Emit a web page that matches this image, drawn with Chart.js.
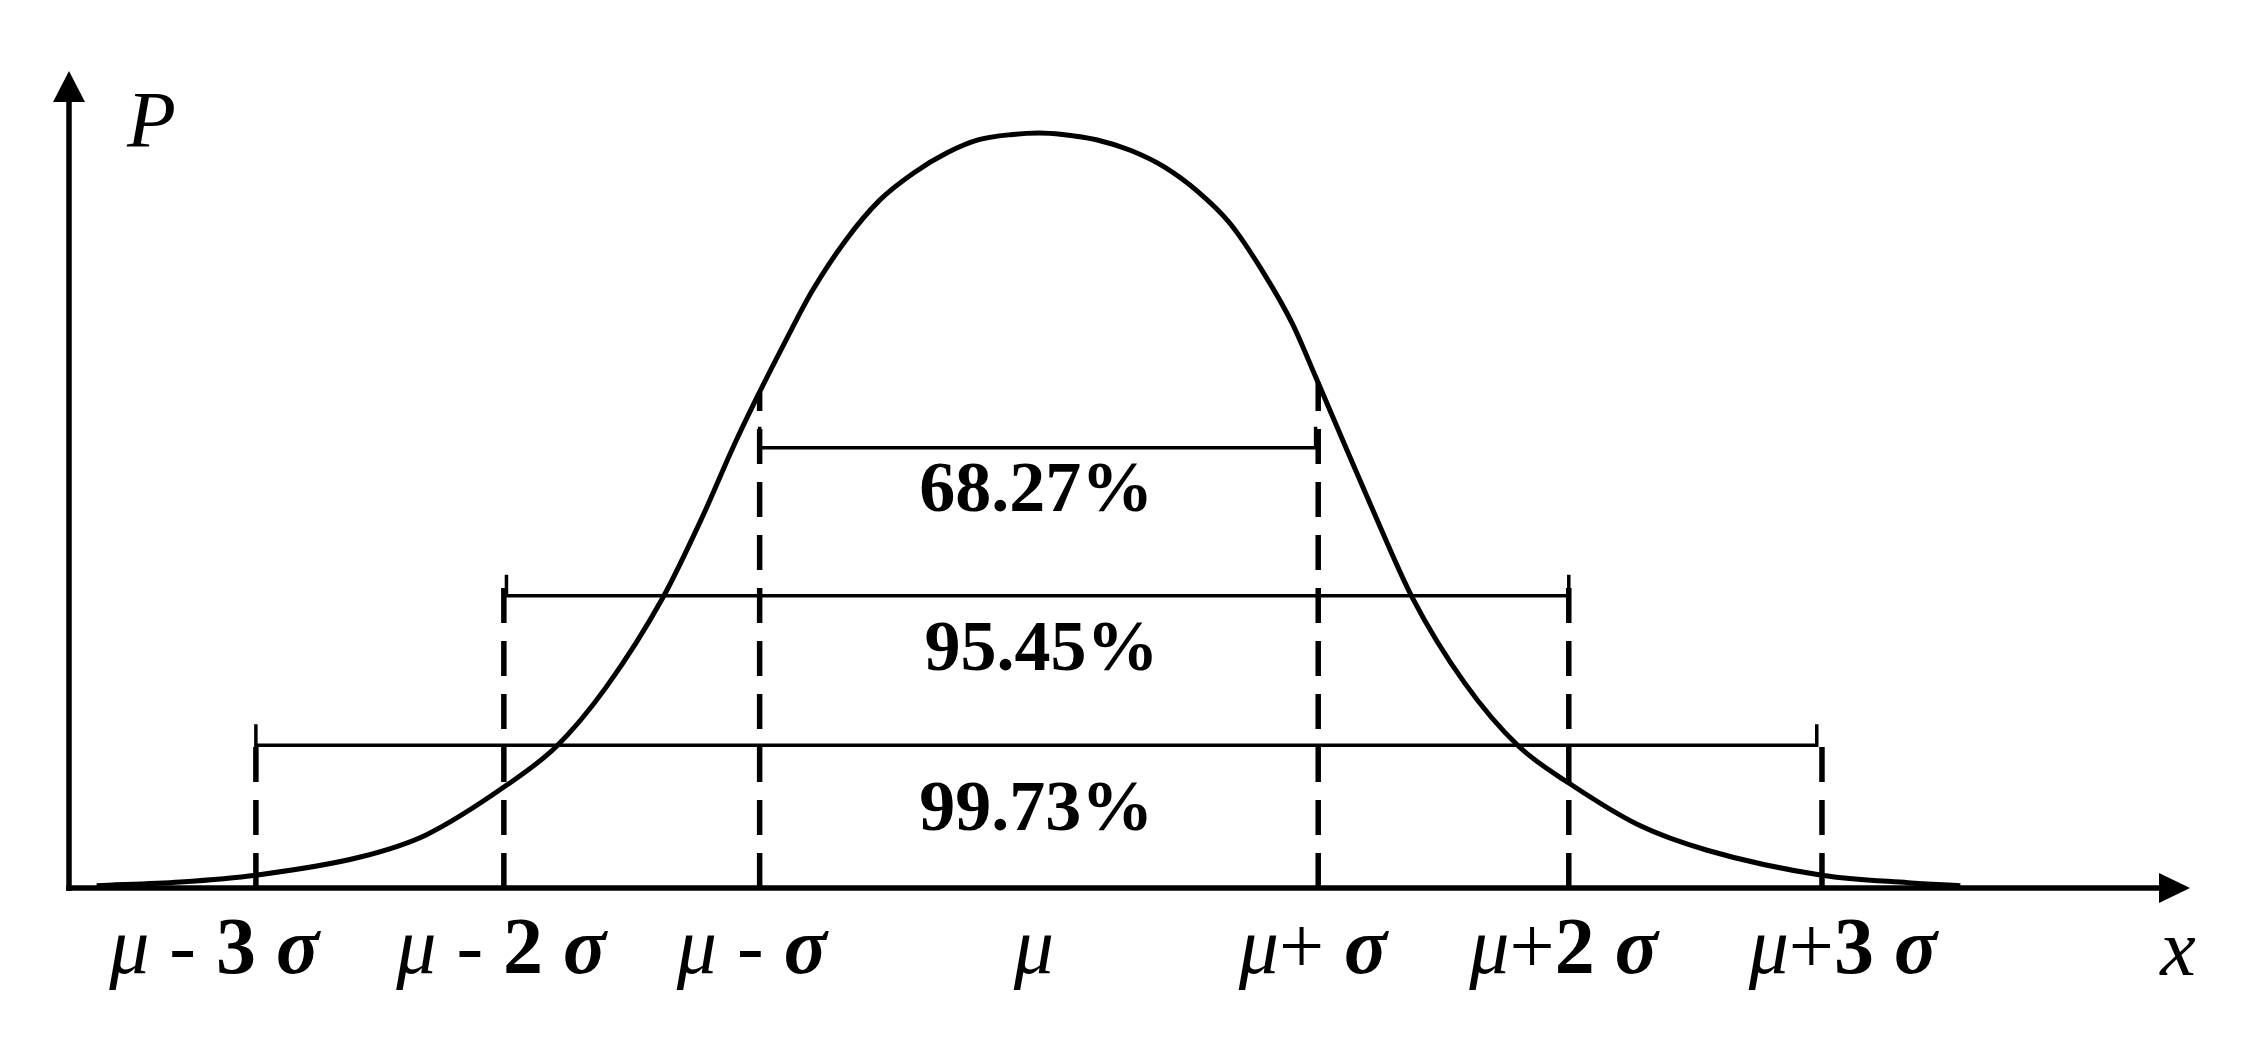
<!DOCTYPE html>
<html>
<head>
<meta charset="utf-8">
<title>Normal distribution 3-sigma</title>
<script src="https://cdn.jsdelivr.net/npm/chart.js@4.4.1/dist/chart.umd.min.js"></script>
<style>
  html, body { margin: 0; padding: 0; background: #fff; }
  #wrap { width: 2255px; height: 1051px; }
</style>
</head>
<body>
<div id="wrap"><canvas id="chart" width="2255" height="1051"></canvas></div>
<script>
// x is measured from mu (one unit ~ the spacing of the dashed lines), y relative to the peak
const curveX = [-3.61, -3.29, -3.00, -2.60, -2.35, -2.04, -1.85, -1.66, -1.44, -1.29, -1.17, -1.08, -0.97, -0.87, -0.74, -0.61, -0.48, -0.35, -0.23, -0.10, 0.00,
                0.09, 0.22, 0.35, 0.48, 0.61, 0.73, 0.86, 0.97, 1.06, 1.18, 1.28, 1.43, 1.63, 1.84, 2.03, 2.30, 2.56, 3.00, 3.33, 3.53];
const curveY = [0.003, 0.008, 0.017, 0.041, 0.070, 0.136, 0.187, 0.265, 0.385, 0.491, 0.585, 0.650, 0.725, 0.790, 0.858, 0.911, 0.947, 0.974, 0.991, 0.998, 1.000,
                0.998, 0.991, 0.977, 0.955, 0.922, 0.881, 0.815, 0.748, 0.677, 0.580, 0.500, 0.385, 0.272, 0.187, 0.139, 0.083, 0.050, 0.017, 0.007, 0.003];

// dashed verticals
const lineX   = [-3.00, -2.05, -1.07, 1.07, 2.03, 3.00];
const lineTop = [0.189, 0.415, 0.657, 0.670, 0.415, 0.189];

// tick labels under the x axis
const tickLabels = ['μ - 3 σ', 'μ - 2 σ', 'μ - σ', 'μ', 'μ+ σ', 'μ+2 σ', 'μ+3 σ'];
const tickAt     = [-3.16, -2.06, -1.10, -0.02, 1.05, 2.01, 3.08];

// interval brackets
const pctLabels   = ['68.27%', '95.45%', '99.73%'];
const bracketY    = [0.583, 0.387, 0.189];
const bracketFrom = [-1.07, -2.04, -3.00];
const bracketTo   = [1.06, 2.03, 2.98];
const pctX        = [-0.01, 0.01, -0.01];
const pctY        = [0.524, 0.313, 0.102];

const X_MIN = -3.716, X_MAX = 4.41;
const Y_MIN = 0, Y_MAX = 1.082;
const TICK = 0.028; // bracket end tick height

const SERIF = "'Liberation Serif', 'Times New Roman', serif";

const datasets = [{
    data: curveX.map((x, i) => ({ x, y: curveY[i] })),
    borderColor: '#000',
    borderWidth: 5,
    cubicInterpolationMode: 'monotone',
    borderJoinStyle: 'round',
}];

lineX.forEach((x, i) => {
    datasets.push({
        data: [{ x, y: 0 }, { x, y: lineTop[i] }],
        borderColor: '#000',
        borderWidth: 5.5,
        borderDash: [35, 18],
    });
});

bracketY.forEach((y, i) => {
    datasets.push({
        data: [
            { x: bracketFrom[i], y: y + TICK },
            { x: bracketFrom[i], y },
            { x: bracketTo[i], y },
            { x: bracketTo[i], y: y + TICK },
        ],
        borderColor: '#000',
        borderWidth: 3.5,
        borderJoinStyle: 'miter',
    });
});

function fontFor(ch) {
    if (ch === 'μ') return `italic 80px ${SERIF}`;
    if (ch === 'σ') return `italic bold 80px ${SERIF}`;
    if (/[0-9]/.test(ch)) return `bold 80px ${SERIF}`;
    return `80px ${SERIF}`;
}

// draws a label char by char so μ, σ and digits get their own faces
function drawMixed(ctx, text, cx, baseline) {
    const chars = [...text];
    const widths = chars.map(ch => { ctx.font = fontFor(ch); return ctx.measureText(ch).width; });
    let x = cx - widths.reduce((a, b) => a + b, 0) / 2;
    chars.forEach((ch, i) => {
        ctx.font = fontFor(ch);
        ctx.fillText(ch, x, baseline);
        x += widths[i];
    });
}

const axesPlugin = {
    id: 'axes',
    beforeDatasetsDraw(chart) {
        const { ctx, chartArea: a } = chart;
        ctx.save();
        ctx.strokeStyle = '#000';
        ctx.fillStyle = '#000';
        ctx.lineWidth = 5.5;
        ctx.lineCap = 'butt';
        // y axis + arrow
        ctx.beginPath();
        ctx.moveTo(a.left, a.bottom + 2.75);
        ctx.lineTo(a.left, a.top + 25);
        ctx.stroke();
        ctx.beginPath();
        ctx.moveTo(a.left, a.top);
        ctx.lineTo(a.left - 16, a.top + 31);
        ctx.lineTo(a.left + 16, a.top + 31);
        ctx.closePath();
        ctx.fill();
        // x axis + arrow
        ctx.beginPath();
        ctx.moveTo(a.left - 2.75, a.bottom);
        ctx.lineTo(a.right - 25, a.bottom);
        ctx.stroke();
        ctx.beginPath();
        ctx.moveTo(a.right, a.bottom);
        ctx.lineTo(a.right - 31, a.bottom - 15);
        ctx.lineTo(a.right - 31, a.bottom + 15);
        ctx.closePath();
        ctx.fill();
        ctx.restore();
    },
    afterDraw(chart) {
        const { ctx, chartArea: a, scales: { x, y } } = chart;
        ctx.save();
        ctx.fillStyle = '#000';
        ctx.textBaseline = 'alphabetic';
        ctx.textAlign = 'left';

        tickLabels.forEach((t, i) => drawMixed(ctx, t, x.getPixelForValue(tickAt[i]), a.bottom + 85));

        // axis names
        ctx.font = `italic 80px ${SERIF}`;
        ctx.fillText('P', a.left + 58, a.top + 76);
        ctx.textAlign = 'center';
        ctx.fillText('x', a.right - 12, a.bottom + 87);

        // percentages
        ctx.font = `bold 72px ${SERIF}`;
        ctx.textBaseline = 'middle';
        pctLabels.forEach((t, i) => ctx.fillText(t, x.getPixelForValue(pctX[i]), y.getPixelForValue(pctY[i])));
        ctx.restore();
    }
};

new Chart(document.getElementById('chart'), {
    type: 'scatter',
    data: { datasets },
    options: {
        responsive: false,
        animation: false,
        devicePixelRatio: 1,
        layout: { padding: { left: 69, right: 65, top: 71, bottom: 163 } },
        datasets: {
            scatter: { showLine: true, pointRadius: 0, fill: false, clip: false }
        },
        scales: {
            x: { type: 'linear', min: X_MIN, max: X_MAX, display: false },
            y: { type: 'linear', min: Y_MIN, max: Y_MAX, display: false },
        },
        plugins: {
            legend: { display: false },
            tooltip: { enabled: false },
        },
    },
    plugins: [axesPlugin],
});
</script>
</body>
</html>
